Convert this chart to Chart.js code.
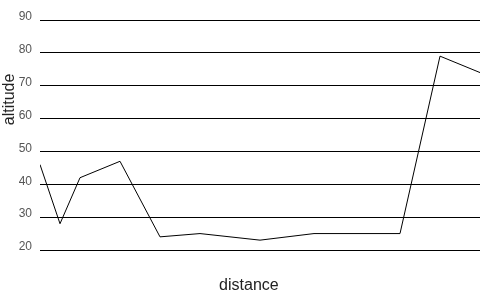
<!DOCTYPE html>
<html>
<head>
<meta charset="utf-8">
<script src="https://cdn.jsdelivr.net/npm/chart.js@4/dist/chart.umd.min.js"></script>
<style>
html,body{margin:0;padding:0;background:#fff;}
#wrap{width:500px;height:300px;}
</style>
</head>
<body>
<div id="wrap"><canvas id="c" width="500" height="300"></canvas></div>
<script>
const distances = [0, 1, 2, 4, 6, 8, 11, 13.7, 18, 20, 22];
const altitudes = [46, 28, 42, 47, 24, 25, 23, 25, 25, 79, 74];
const yTicks = [20, 30, 40, 50, 60, 70, 80, 90];
const xTitle = 'distance';
const yTitle = 'altitude';

const points = distances.map((d, i) => ({x: d, y: altitudes[i]}));

new Chart(document.getElementById('c'), {
  type: 'line',
  data: {
    datasets: [{
      data: points,
      borderColor: '#000',
      borderWidth: 1,
      pointRadius: 0,
      tension: 0,
      fill: false
    }]
  },
  options: {
    responsive: false,
    animation: false,
    layout: {padding: {top: 20, right: 20, left: 0, bottom: 0}},
    plugins: {legend: {display: false}, tooltip: {enabled: false}},
    scales: {
      x: {
        type: 'linear',
        min: 0,
        max: 22,
        afterFit: (scale) => { scale.height = 50; },
        grid: {display: false},
        border: {display: false},
        ticks: {display: false},
        title: {
          display: true,
          text: xTitle + '\u00a0\u00a0\u00a0\u00a0\u00a0',
          color: '#222',
          font: {family: 'Liberation Sans, Arial, sans-serif', size: 16},
          padding: {top: 25, bottom: 5}
        }
      },
      y: {
        min: 20,
        max: 90,
        afterBuildTicks: (scale) => { scale.ticks = yTicks.map(v => ({value: v})); },
        afterFit: (scale) => { scale.width = 40; },
        grid: {color: '#000', lineWidth: 1, drawTicks: false},
        border: {display: false},
        ticks: {
          color: '#555',
          padding: 8,
          labelOffset: -3,
          font: {family: 'Liberation Sans, Arial, sans-serif', size: 12}
        },
        title: {
          display: true,
          text: '\u00a0'.repeat(16) + yTitle,
          color: '#222',
          font: {family: 'Liberation Sans, Arial, sans-serif', size: 16},
          padding: 0
        }
      }
    }
  }
});
</script>
</body>
</html>
